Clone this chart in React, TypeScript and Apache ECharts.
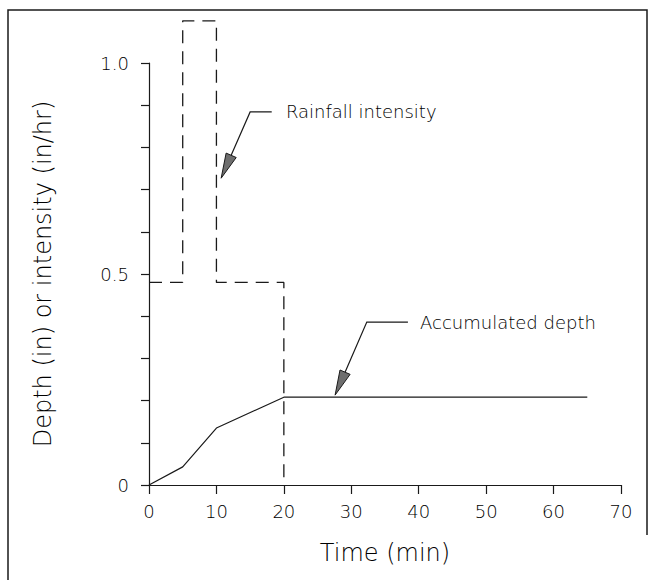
import React, { useEffect, useRef } from "react";
import * as echarts from "echarts";

// Data
const RAIN_TIME = [0, 5, 10, 20];
const RAIN_INTENSITY = [0.48, 1.1, 0.48, 0];
const DEPTH_TIME = [0, 5, 10, 20, 65];
const DEPTH_VALUE = [0, 0.043, 0.135, 0.208, 0.208];
const Y_LABELS: Record<string, string> = { "0": "0", "0.5": "0.5", "1": "1.0" };
const X_NAME = "Time (min)";
const Y_NAME = "Depth (in) or intensity (in/hr)";

// Annotations (data coordinates): text, text anchor, elbow, arrow tip
const ANNOTATIONS = [
  { text: "Rainfall intensity", textAt: [20.3, 0.884], lineEnd: [18.2, 0.884], elbow: [15.0, 0.884], tip: [10.7, 0.727] },
  { text: "Accumulated depth", textAt: [40.2, 0.386], lineEnd: [38.4, 0.386], elbow: [32.3, 0.386], tip: [27.6, 0.213] },
];

const FONT = "DejaVu Sans";
const INK = "#1a1a1a";
const TEXT_INK = "#000000";
const WEIGHT = 200;

export default function App() {
  const ref = useRef<HTMLDivElement>(null);
  useEffect(() => {
    if (!ref.current) return;
    const chart = echarts.init(ref.current, undefined, { renderer: "svg" });
    chart.setOption({
      animation: false,
      backgroundColor: "#ffffff",
      grid: { left: 149, top: 63, width: 472, height: 422, containLabel: false },
      xAxis: {
        type: "value",
        min: 0,
        max: 70,
        interval: 10,
        name: X_NAME,
        nameLocation: "middle",
        nameGap: 56,
        nameTextStyle: { fontFamily: FONT, fontSize: 24, fontWeight: WEIGHT, color: TEXT_INK },
        axisLine: { show: true, lineStyle: { color: INK, width: 1.2 } },
        axisTick: { show: true, inside: false, length: 9, lineStyle: { color: INK, width: 1.2 } },
        axisLabel: { margin: 17, fontFamily: FONT, fontSize: 18, fontWeight: WEIGHT, color: TEXT_INK },
        splitLine: { show: false },
      },
      yAxis: {
        type: "value",
        min: 0,
        max: 1,
        interval: 0.1,
        name: Y_NAME,
        nameLocation: "middle",
        nameGap: 94,
        nameTextStyle: { fontFamily: FONT, fontSize: 24, fontWeight: WEIGHT, color: TEXT_INK },
        axisLine: { show: true, onZero: false, lineStyle: { color: INK, width: 1.2 } },
        axisTick: { show: true, inside: false, length: 8, lineStyle: { color: INK, width: 1.2 } },
        axisLabel: {
          margin: 20,
          fontFamily: FONT,
          fontSize: 18,
          fontWeight: WEIGHT,
          color: TEXT_INK,
          formatter: (v: number) => {
            const k = String(Math.round(v * 10) / 10);
            return Y_LABELS[k] ?? "";
          },
        },
        splitLine: { show: false },
      },
      series: [
        {
          type: "line",
          name: "Rainfall intensity",
          data: RAIN_TIME.map((t, i) => [t, RAIN_INTENSITY[i]]),
          step: "end",
          clip: false,
          symbol: "none",
          lineStyle: { color: INK, width: 1.3, type: [13, 8] },
        },
        {
          type: "line",
          name: "Accumulated depth",
          data: DEPTH_TIME.map((t, i) => [t, DEPTH_VALUE[i]]),
          symbol: "none",
          lineStyle: { color: INK, width: 1.2 },
        },
      ],
    });

    const px = (p: number[]) => chart.convertToPixel({ gridIndex: 0 }, p) as number[];
    const graphics: any[] = [
      {
        type: "polyline",
        shape: { points: [[8, 580], [8, 10], [647, 10], [647, 535]] },
        style: { stroke: INK, lineWidth: 1.5, fill: null },
        silent: true,
      },
    ];
    ANNOTATIONS.forEach((a) => {
      const tip = px(a.tip);
      const elbow = px(a.elbow);
      const end = px(a.lineEnd);
      const txt = px(a.textAt);
      const dx = elbow[0] - tip[0];
      const dy = elbow[1] - tip[1];
      const len = Math.hypot(dx, dy);
      const ux = dx / len, uy = dy / len;
      const L = 25, W = 5.5;
      const bx = tip[0] + ux * L, by = tip[1] + uy * L;
      const nx = -uy, ny = ux;
      graphics.push({
        type: "polyline",
        shape: { points: [end, elbow, [bx, by]] },
        style: { stroke: INK, lineWidth: 1.2, fill: null },
        silent: true,
      });
      graphics.push({
        type: "polygon",
        shape: { points: [tip, [bx + nx * W, by + ny * W], [bx - nx * W, by - ny * W]] },
        style: { stroke: INK, lineWidth: 1, fill: "#6e6e6e" },
        silent: true,
      });
      graphics.push({
        type: "text",
        x: txt[0],
        y: txt[1],
        style: { text: a.text, fontFamily: FONT, fontSize: 18, fontWeight: WEIGHT, fill: TEXT_INK, align: "left", verticalAlign: "middle" },
        silent: true,
      });
    });
    chart.setOption({ graphic: graphics });

    return () => chart.dispose();
  }, []);
  return <div ref={ref} style={{ position: "fixed", left: 0, top: 0, width: 649, height: 580 }} />;
}
